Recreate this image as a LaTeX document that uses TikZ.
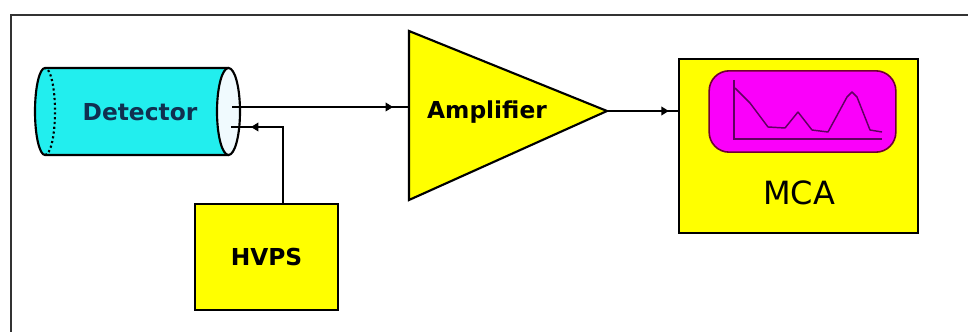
\documentclass[tikz,border=0pt]{standalone}
\usepackage{fontspec}
\setmainfont{DejaVu Sans}
\usetikzlibrary{calc,arrows.meta,decorations.markings}
\definecolor{detcyan}{RGB}{34,238,238}
\definecolor{boxyellow}{RGB}{255,255,0}
\definecolor{scrmagenta}{RGB}{250,0,250}
\definecolor{scredge}{RGB}{110,0,50}
\definecolor{tracepurple}{RGB}{96,0,96}
\definecolor{detnavy}{RGB}{16,48,80}

\begin{document}
\begin{tikzpicture}[x=0.75pt, y=0.75pt,
  lbl/.style={font=\fontsize{17.5}{19}\selectfont\bfseries},
  block/.style={draw=black, fill=boxyellow, line width=1.6pt},
  sig/.style={line width=1pt},
  tipat/.style={postaction={decorate}, decoration={markings,
      mark=at position #1 with {\arrow{Triangle[length=5.5pt,width=6.5pt]}}}}]
  \useasboundingbox (0,0) rectangle (968,332);
  \fill[white] (0,0) rectangle (968,332);
  \begin{scope}
    \clip (0,0) rectangle (968,332);
    \draw[gray!40!black, line width=1.2pt] (11,-10) rectangle (980,317);
  \end{scope}

  \fill[detcyan] (45,264) -- (228.5,264) -- (228.5,177) -- (45,177)
    arc[start angle=270, end angle=90, x radius=10, y radius=43.5] -- cycle;
  \draw[line width=1.6pt] (228.5,264) -- (45,264)
    arc[start angle=90, end angle=270, x radius=10, y radius=43.5] -- (228.5,177);
  \draw[line width=1.6pt, dotted] (45,177) arc[start angle=-90, end angle=90, x radius=10, y radius=43.5];
  \draw[line width=1.6pt, fill=white!94!cyan] (228.5,220.5) ellipse [x radius=11.5, y radius=43.5];
  \node[lbl, text=detnavy] (det) at (140,220) {Detector};
  \coordinate (det out) at (232,225);
  \coordinate (det in) at (231,205);

  \draw[block, line join=miter] (409,301) -- (607,221) -- (409,132) -- cycle;
  \node[lbl] (amp) at (487,220) {Amplifier};
  \coordinate (amp in) at (409,225);
  \coordinate (amp out) at (607,221);

  \node[block, minimum width=107pt, minimum height=79.5pt, lbl] (hvps) at (266.5,75) {HVPS};

  \node[block, minimum width=179pt, minimum height=130.5pt] (mca) at (798.5,186) {};
  \node[draw=scredge, fill=scrmagenta, line width=1.2pt, rounded corners=15pt,
    minimum width=140pt, minimum height=61pt] (screen) at (802.5,220.5) {};
  \draw[tracepurple, line width=1.1pt] (734,252) -- (734,193) -- (882,193);
  \draw[tracepurple, line width=1.1pt, line join=round] (735,244) -- (750,229) -- (768,205) -- (785,204)
    -- (798,220) -- (812,202) -- (828,200) -- (847,235) -- (852,240) -- (857,235)
    -- (870,202) -- (882,200);
  \node[font=\fontsize{24}{28}\selectfont] (mcalbl) at (799,139) {MCA};

  \draw[sig, tipat=-12pt] (det out) -- (amp in);
  \draw[sig, tipat=-15pt] ([xshift=12.4pt]hvps.north) |- (det in);
  \draw[sig, tipat=-7pt] (amp out) -- (amp out -| mca.west);
\end{tikzpicture}
\end{document}
